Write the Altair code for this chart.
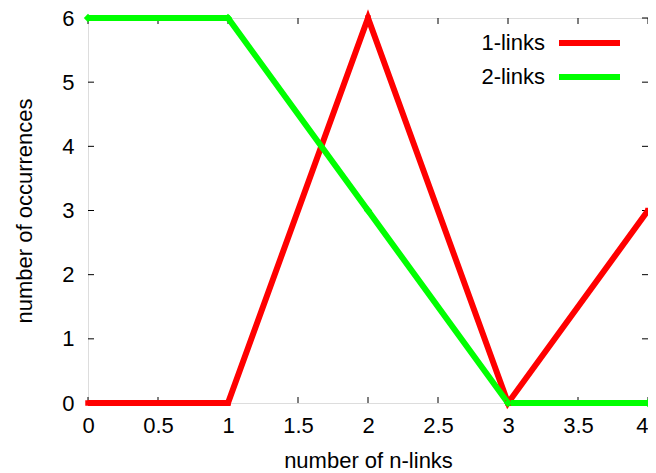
import altair as alt
import pandas as pd

x_vals = [0, 1, 2, 3, 4]
links1 = [0, 0, 6, 0, 3]
links2 = [6, 6, 3, 0, 0]
series_names = ["1-links", "2-links"]
colors = ["#ff0000", "#00ff00"]
x_ticks = [0, 0.5, 1, 1.5, 2, 2.5, 3, 3.5, 4]
y_ticks = [0, 1, 2, 3, 4, 5, 6]

W, H = 560, 385
FONT = "Liberation Sans"
FS = 22

df = pd.DataFrame({
    "x": x_vals * 2,
    "y": links1 + links2,
    "s": [series_names[0]] * 5 + [series_names[1]] * 5,
})

xs = alt.Scale(domain=[0, 4], nice=False, zero=False)
ys = alt.Scale(domain=[0, 6], nice=False, zero=False)
cs = alt.Scale(domain=series_names, range=colors)

xaxis = alt.Axis(values=x_ticks, format="~g", domain=False, ticks=False, grid=False,
                 labelFlush=False, labelOverlap=False,
                 labelAlign={"condition": {"test": "datum.value >= 4", "value": "right"}, "value": "center"},
                 labelFontSize=FS, labelFont=FONT, labelColor="black",
                 labelPadding=12, title="number of n-links", titleFont=FONT,
                 titleFontSize=FS, titleFontWeight="normal", titleColor="black",
                 titlePadding=14)
yaxis = alt.Axis(values=y_ticks, format="~g", domain=False, ticks=False, grid=False,
                 labelFlush=False, labelOverlap=False,
                 labelFontSize=FS, labelFont=FONT, labelColor="black",
                 labelPadding=14, title="number of occurrences", titleFont=FONT,
                 titleFontSize=FS, titleFontWeight="normal", titleColor="black",
                 titlePadding=25)

X = lambda: alt.X("x:Q", scale=xs, axis=xaxis)
Y = lambda: alt.Y("y:Q", scale=ys, axis=yaxis)
C = lambda: alt.Color("s:N", scale=cs, legend=None)

lines = alt.Chart(df).mark_line(strokeWidth=6, strokeJoin="miter", strokeCap="butt", clip=False).encode(
    x=X(), y=Y(), color=C(), order=alt.Order("x:Q"), detail="s:N",
)

pts1 = alt.Chart(df[df.s == series_names[0]]).mark_point(
    shape="square", filled=True, size=30, opacity=1).encode(x=X(), y=Y(), color=C())
pts2 = alt.Chart(df[df.s == series_names[1]]).mark_point(
    shape="diamond", filled=True, size=70, opacity=1).encode(x=X(), y=Y(), color=C())

xt = pd.DataFrame({"x": x_ticks})
yt = pd.DataFrame({"y": y_ticks})
tick_bot = alt.Chart(xt).mark_rule(color="black", strokeWidth=1).encode(
    x=X(), y=alt.value(H), y2=alt.value(H - 6))
tick_top = alt.Chart(xt).mark_rule(color="black", strokeWidth=1).encode(
    x=X(), y=alt.value(0), y2=alt.value(6))
tick_left = alt.Chart(yt).mark_rule(color="black", strokeWidth=1).encode(
    y=Y(), x=alt.value(0), x2=alt.value(6))
tick_right = alt.Chart(yt).mark_rule(color="black", strokeWidth=1).encode(
    y=Y(), x=alt.value(W), x2=alt.value(W - 6))

legend_layers = []
for i, name in enumerate(series_names):
    ld = pd.DataFrame({"s": [name]})
    yy = 25 + 34 * i
    legend_layers.append(alt.Chart(ld).mark_rule(strokeWidth=6).encode(
        x=alt.value(471), x2=alt.value(532), y=alt.value(yy), color=C()))
    legend_layers.append(alt.Chart(ld).mark_text(
        align="right", baseline="middle", fontSize=FS, font=FONT, color="black").encode(
        text="s:N", x=alt.value(457), y=alt.value(yy)))

chart = alt.layer(
    tick_bot, tick_top, tick_left, tick_right,
    lines, pts1, pts2, *legend_layers,
).properties(
    width=W, height=H,
    autosize=alt.AutoSizeParams(type="none"),
    padding={"left": 80, "top": 10, "right": 0, "bottom": 66},
).configure_view(stroke="black", strokeWidth=1).configure(background="white")

chart.save("out.html", embed_options={"renderer": "svg", "actions": False})
